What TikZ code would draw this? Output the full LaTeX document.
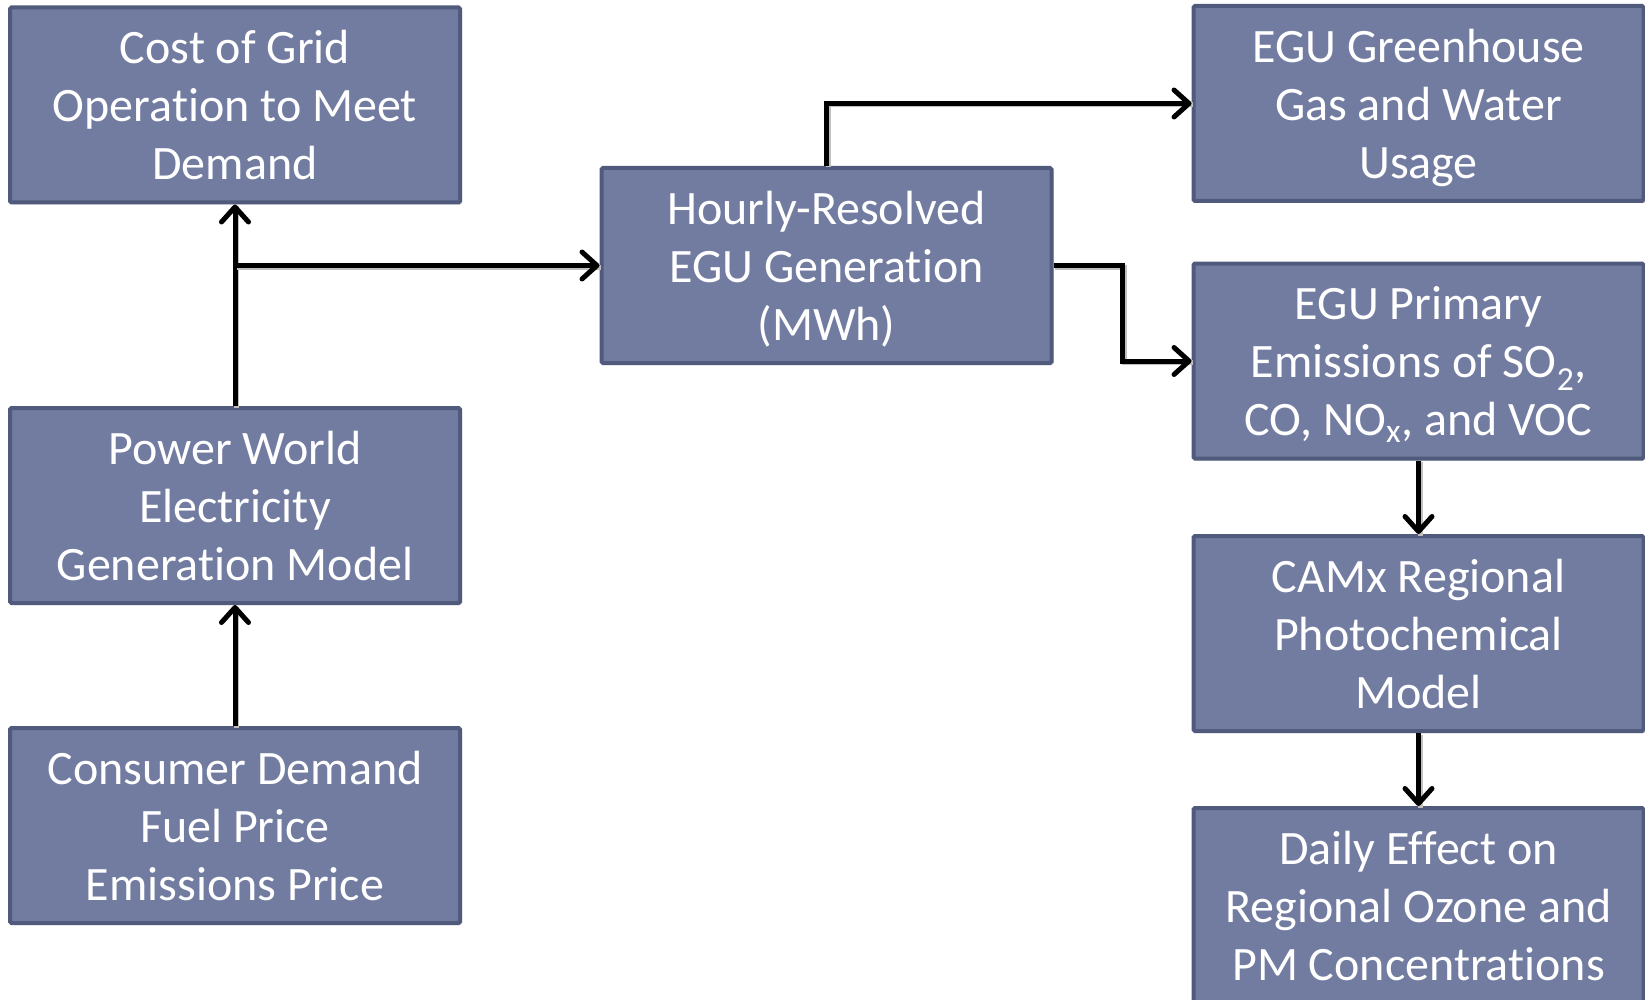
\documentclass[tikz,border=0pt]{standalone}
\usepackage{fontspec}
\setmainfont[Ligatures=NoCommon]{Carlito}
\usetikzlibrary{arrows.meta,calc,shadows}
\definecolor{boxfill}{RGB}{114,124,161}
\definecolor{boxedge}{RGB}{80,90,124}
\begin{document}
\begin{tikzpicture}[x=1pt,y=-1pt,
  flowbox/.style={draw=boxedge, line width=4pt, fill=boxfill, rounded corners=1.5pt,
    minimum width=450pt, minimum height=195pt, inner sep=0pt, align=center,
    text=white, font=\fontsize{48}{58}\selectfont, text depth=0pt,
    drop shadow={opacity=0.3, shadow xshift=2pt, shadow yshift=-2pt}},
  conn/.style={line width=5pt, -{Straight Barb[length=15pt,width=27pt,round]},
    preaction={draw=black!25, line width=5pt, transform canvas={xshift=1.5pt,yshift=-1.5pt}, -}}]
\useasboundingbox (0,0) rectangle (1645,1000);
\node[flowbox] (A) at (235,105) {Cost of Grid\\Operation to Meet\\Demand};
\node[flowbox] (B) at (235,505.5) {Power World\\Electricity\\Generation Model};
\node[flowbox] (C) at (235,825.5) {Consumer Demand\\Fuel Price\\Emissions Price};
\node[flowbox] (D) at (826.5,265.5) {Hourly-Resolved\\EGU Generation\\(MWh)};
\node[flowbox] (E) at (1418.5,103.5) {EGU Greenhouse\\Gas and Water\\Usage};
\node[flowbox] (F) at (1418.5,361) {EGU Primary\\Emissions of SO\textsubscript{2},\\CO, NO\textsubscript{x}, and VOC};
\node[flowbox] (G) at (1418.5,633.5) {CAMx Regional\\Photochemical\\Model};
\node[flowbox] (H) at (1418.5,905.5) {Daily Effect on\\Regional Ozone and\\PM Concentrations};
\coordinate (j) at (A.south |- D.west);
\coordinate (k) at ($(D.east)!0.5!(F.west)$);
\draw[conn] (C.north) -- (B.south);
\draw[conn] (B.north) -- (A.south);
\draw[conn] (j) -- (D.west);
\draw[conn] (D.north) |- (E.west);
\draw[conn] (D.east) -| (k) |- (F.west);
\draw[conn] (F.south) -- (G.north);
\draw[conn] (G.south) -- (H.north);
\end{tikzpicture}
\end{document}
